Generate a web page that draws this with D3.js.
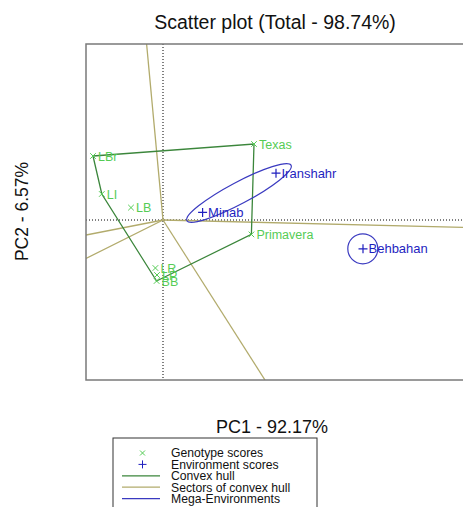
<!DOCTYPE html>
<html><head><meta charset="utf-8">
<script src="https://d3js.org/d3.v7.min.js"></script>
<style>body{margin:0;background:#fff}svg{display:block}text{font-family:"Liberation Sans",Arial,sans-serif}</style>
</head><body>
<script>
// Genotype scores (PC1, PC2)
const genotypes = ["Texas","LBr","LI","LB","Primavera","LR","LP","BB"];
const genoPC1 = [2.275,-1.75,-1.53,-0.80,2.21,-0.19,-0.15,-0.16];
const genoPC2 = [1.90,1.60,0.65,0.31,-0.36,-1.20,-1.375,-1.525];
// Environment scores
const environments = ["Minab","Iranshahr","Behbahan"];
const envPC1 = [0.99,2.825,5.0];
const envPC2 = [0.19,1.17,-0.72];
// Convex hull vertex order (genotype names)
const hull = ["LBr","Texas","Primavera","BB","LI"];
// Sector ray end points (from origin)
const sectorPC1 = [-0.41,7.675,2.55,-1.925,-1.925];
const sectorPC2 = [4.4,-0.19,-4.0,-0.375,-0.96];
// Mega-environment ellipses: centre, semi-axes, angle (deg)
const megaCx = [1.9,4.995];
const megaCy = [0.675,-0.72];
const megaA = [1.475,0.375];
const megaB = [0.27,0.375];
const megaAngle = [28,0];
const legendLabels = ["Genotype scores","Environment scores","Convex hull","Sectors of convex hull","Mega-Environments"];

const W=463,H=507;
const cGeno="#55cc55", cHull="#3b863b", cSector="#b2ab6c", cEnv="#1f1fbf", cMega="#3a3ac0";
const svg=d3.select("body").append("svg").attr("width",W).attr("height",H);
const x=d3.scaleLinear().domain([-1.925,7.675]).range([86,470]);
const y=d3.scaleLinear().domain([-4.0,4.4]).range([380,44]);

svg.append("defs").append("clipPath").attr("id","clip").append("rect")
  .attr("x",86).attr("y",44).attr("width",384).attr("height",336);
const g=svg.append("g").attr("clip-path","url(#clip)");

// reference dotted axes
g.append("line").attr("x1",x(0)).attr("x2",x(0)).attr("y1",44).attr("y2",380)
  .attr("stroke","#000").attr("stroke-width",1).attr("stroke-dasharray","1,2");
g.append("line").attr("x1",86).attr("x2",470).attr("y1",y(0)).attr("y2",y(0))
  .attr("stroke","#000").attr("stroke-width",1).attr("stroke-dasharray","1,2");

// sectors
sectorPC1.forEach((v,i)=>{
  g.append("line").attr("x1",x(0)).attr("y1",y(0)).attr("x2",x(v)).attr("y2",y(sectorPC2[i]))
   .attr("stroke",cSector).attr("stroke-width",1.3);
});

// hull
const hullPts=hull.map(n=>{const i=genotypes.indexOf(n);return [x(genoPC1[i]),y(genoPC2[i])];});
g.append("path").attr("d",d3.line()(hullPts)+"Z").attr("fill","none").attr("stroke",cHull).attr("stroke-width",1.3);

// mega-environments
megaCx.forEach((c,i)=>{
  const px=x(c),py=y(megaCy[i]);
  g.append("ellipse").attr("cx",px).attr("cy",py)
   .attr("rx",x(c+megaA[i])-px).attr("ry",py-y(megaCy[i]+megaB[i]))
   .attr("transform",`rotate(${-megaAngle[i]},${px},${py})`)
   .attr("fill","none").attr("stroke",cMega).attr("stroke-width",1.2);
});

// genotype markers + labels
genotypes.forEach((n,i)=>{
  const px=x(genoPC1[i]),py=y(genoPC2[i]),s=2.8;
  g.append("path").attr("d",`M${px-s},${py-s}L${px+s},${py+s}M${px-s},${py+s}L${px+s},${py-s}`)
   .attr("stroke",cGeno).attr("stroke-width",1);
  g.append("text").attr("x",px+5).attr("y",py).attr("dy","0.36em")
   .attr("font-size",12.5).attr("fill",cGeno).text(n);
});
// environment markers + labels
environments.forEach((n,i)=>{
  const px=x(envPC1[i]),py=y(envPC2[i]),s=4.5;
  g.append("path").attr("d",`M${px-s},${py}L${px+s},${py}M${px},${py-s}L${px},${py+s}`)
   .attr("stroke",cEnv).attr("stroke-width",1.2);
  g.append("text").attr("x",px+5.5).attr("y",py).attr("dy","0.36em")
   .attr("font-size",13).attr("fill",cEnv).text(n);
});

// box
svg.append("rect").attr("x",86).attr("y",44).attr("width",384).attr("height",336)
  .attr("fill","none").attr("stroke","#7a7a7a").attr("stroke-width",1.5);

// titles
svg.append("text").attr("x",275).attr("y",29).attr("text-anchor","middle").attr("font-size",19.5).attr("fill","#111").text("Scatter plot (Total - 98.74%)");
svg.append("text").attr("x",272).attr("y",433).attr("text-anchor","middle").attr("font-size",18).attr("fill","#111").text("PC1 - 92.17%");
svg.append("text").attr("transform","translate(28,211.5) rotate(-90)").attr("text-anchor","middle").attr("font-size",17.5).attr("fill","#111").text("PC2 - 6.57%");

// legend
svg.append("rect").attr("x",113).attr("y",438).attr("width",204).attr("height",80)
  .attr("fill","none").attr("stroke","#333").attr("stroke-width",1);
legendLabels.forEach((t,i)=>{
  const ly=453+11.4*i, cx=142.5;
  if(i===0){const s=2.5;svg.append("path").attr("d",`M${cx-s},${ly-s}L${cx+s},${ly+s}M${cx-s},${ly+s}L${cx+s},${ly-s}`).attr("stroke",cGeno);}
  else if(i===1){const s=4;svg.append("path").attr("d",`M${cx-s},${ly}L${cx+s},${ly}M${cx},${ly-s}L${cx},${ly+s}`).attr("stroke",cEnv);}
  else {svg.append("line").attr("x1",122).attr("x2",160).attr("y1",ly).attr("y2",ly)
    .attr("stroke",[cHull,cSector,cMega][i-2]).attr("stroke-width",1.3);}
  svg.append("text").attr("x",171).attr("y",ly).attr("dy","0.36em").attr("font-size",12.2).attr("fill","#111").text(t);
});
</script>
</body></html>
